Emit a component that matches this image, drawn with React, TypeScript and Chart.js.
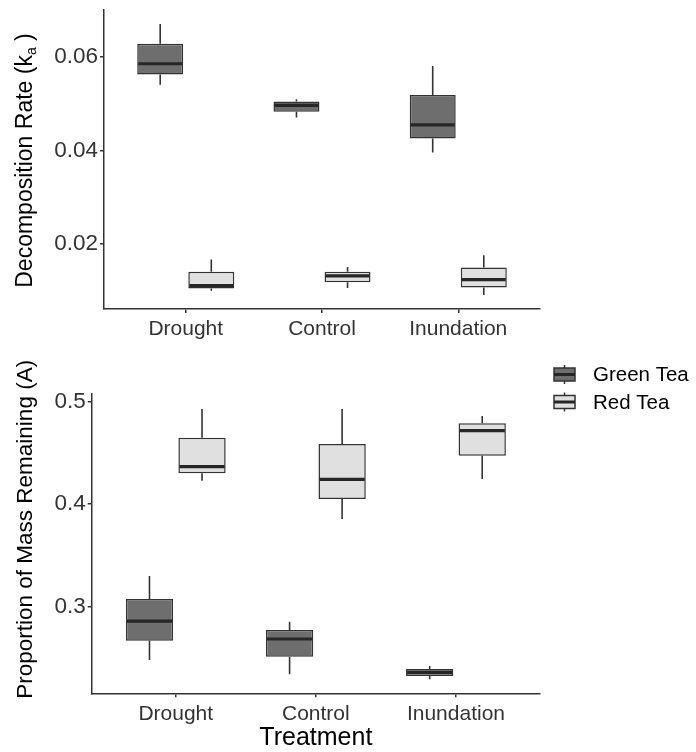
import React, { useEffect, useRef } from 'react';
import { Chart, registerables } from 'chart.js';

Chart.register(...registerables);

// ---------- data ----------
const categories = ['Drought', 'Control', 'Inundation'];
const seriesNames = ['Green Tea', 'Red Tea'];

// each entry: [lower whisker, Q1, median, Q3, upper whisker]
const greenTeaRate = [
  [0.0541, 0.0563, 0.0586, 0.0629, 0.0671],
  [0.0471, 0.0483, 0.0497, 0.0505, 0.051],
  [0.0396, 0.0426, 0.0455, 0.0519, 0.0581],
];
const redTeaRate = [
  [0.01, 0.0105, 0.0111, 0.0141, 0.0167],
  [0.0106, 0.0118, 0.0132, 0.0141, 0.0151],
  [0.0091, 0.0107, 0.0124, 0.015, 0.0176],
];
const greenTeaMass = [
  [0.248, 0.2668, 0.286, 0.3075, 0.33],
  [0.234, 0.2512, 0.2685, 0.2773, 0.2854],
  [0.2292, 0.2324, 0.236, 0.2392, 0.2422],
];
const redTeaMass = [
  [0.4229, 0.4301, 0.4366, 0.4649, 0.4929],
  [0.3856, 0.4051, 0.4243, 0.4587, 0.4929],
  [0.4246, 0.4473, 0.4717, 0.4789, 0.486],
];

const rateTicks = [0.02, 0.04, 0.06];
const rateTickLabels = ['0.02', '0.04', '0.06'];
const massTicks = [0.3, 0.4, 0.5];
const massTickLabels = ['0.3', '0.4', '0.5'];
const rateRange = [0.0061, 0.0701];
const massRange = [0.2155, 0.5082];

// ---------- style ----------
const FONT = "'Liberation Sans', Arial, Helvetica, sans-serif";
const fills = ['#6e6e6e', '#e0e0e0'];
const stroke = '#333333';
const medianColor = '#262626';

Chart.defaults.font.family = FONT;

const boxParts = {
  id: 'boxParts',
  afterDatasetsDraw(chart: any) {
    const ctx = chart.ctx;
    const ys = chart.scales.y;
    chart.data.datasets.forEach((ds: any, d: number) => {
      const meta = chart.getDatasetMeta(d);
      meta.data.forEach((bar: any, i: number) => {
        const s = ds.stats[i];
        const { x, width } = bar.getProps(['x', 'width'], true);
        ctx.save();
        ctx.strokeStyle = stroke;
        ctx.lineWidth = 1.6;
        ctx.beginPath();
        ctx.moveTo(x, ys.getPixelForValue(s[0]));
        ctx.lineTo(x, ys.getPixelForValue(s[1]));
        ctx.moveTo(x, ys.getPixelForValue(s[3]));
        ctx.lineTo(x, ys.getPixelForValue(s[4]));
        ctx.stroke();
        ctx.strokeStyle = medianColor;
        ctx.lineWidth = 3.2;
        ctx.beginPath();
        const my = ys.getPixelForValue(s[2]);
        ctx.moveTo(x - width / 2 + 1, my);
        ctx.lineTo(x + width / 2 - 1, my);
        ctx.stroke();
        ctx.restore();
      });
    });
  },
};

type Part = { t: string; size: number; dy: number };

function drawVerticalTitle(ctx: any, parts: Part[], cx: number, cy: number) {
  ctx.save();
  let total = 0;
  const widths = parts.map((p) => {
    ctx.font = `${p.size}px ${FONT}`;
    const w = ctx.measureText(p.t).width;
    total += w;
    return w;
  });
  ctx.translate(cx, cy);
  ctx.rotate(-Math.PI / 2);
  ctx.fillStyle = '#000';
  ctx.textBaseline = 'middle';
  ctx.textAlign = 'left';
  let pos = -total / 2;
  parts.forEach((p, k) => {
    ctx.font = `${p.size}px ${FONT}`;
    ctx.fillText(p.t, pos, p.dy);
    pos += widths[k];
  });
  ctx.restore();
}

const rateTitle = {
  id: 'rateTitle',
  afterDraw(chart: any) {
    const area = chart.chartArea;
    drawVerticalTitle(
      chart.ctx,
      [
        { t: 'Decomposition Rate (k', size: 23, dy: 0 },
        { t: 'a', size: 14, dy: 6 },
        { t: ' )', size: 23, dy: 0 },
      ],
      26,
      (area.top + area.bottom) / 2 + 1
    );
  },
};

const massTitle = {
  id: 'massTitle',
  afterDraw(chart: any) {
    const area = chart.chartArea;
    drawVerticalTitle(
      chart.ctx,
      [{ t: 'Proportion of Mass Remaining (A)', size: 22.5, dy: 0 }],
      26,
      (area.top + area.bottom) / 2 - 14
    );
  },
};

const legendKeys = {
  id: 'legendKeys',
  afterDraw(chart: any) {
    const ctx = chart.ctx;
    const rows = [29.5, 57];
    chart.data.datasets.forEach((ds: any, d: number) => {
      const cy = rows[d];
      const x0 = 554;
      const w = 21;
      const cx = x0 + w / 2;
      ctx.save();
      ctx.strokeStyle = stroke;
      ctx.lineWidth = 1.5;
      ctx.beginPath();
      ctx.moveTo(cx, cy - 9.5);
      ctx.lineTo(cx, cy + 9.5);
      ctx.stroke();
      ctx.fillStyle = ds.backgroundColor;
      ctx.fillRect(x0, cy - 6.5, w, 13);
      ctx.strokeRect(x0, cy - 6.5, w, 13);
      ctx.strokeStyle = medianColor;
      ctx.lineWidth = 3;
      ctx.beginPath();
      ctx.moveTo(x0, cy);
      ctx.lineTo(x0 + w, cy);
      ctx.stroke();
      ctx.fillStyle = '#000';
      ctx.font = `20.5px ${FONT}`;
      ctx.textBaseline = 'middle';
      ctx.textAlign = 'left';
      ctx.fillText(ds.label, 593, cy + 1);
      ctx.restore();
    });
  },
};

function buildConfig(opts: {
  green: number[][];
  red: number[][];
  yTicks: number[];
  yLabels: string[];
  yRange: number[];
  yWidth: number;
  xHeight: number;
  padTop: number;
  xTitle?: string;
  plugins: any[];
}) {
  const axisGrid = {
    display: true,
    drawOnChartArea: false,
    drawTicks: true,
    tickLength: 4,
    color: stroke,
    lineWidth: 1.5,
    offset: false,
  };
  const axisBorder = { display: true, color: stroke, width: 1.5 };
  return {
    type: 'bar',
    data: {
      datasets: [opts.green, opts.red].map((arr, d) => ({
        label: seriesNames[d],
        data: arr.map((s, i) => ({ x: i, y: [s[1], s[3]] })),
        stats: arr,
        backgroundColor: fills[d],
        borderColor: stroke,
        borderWidth: 1.5,
        borderSkipped: false,
        categoryPercentage: 0.75,
        barPercentage: 0.9,
      })),
    },
    options: {
      responsive: false,
      animation: false,
      events: [],
      layout: { padding: { top: opts.padTop, right: 156, left: 0, bottom: 0 } },
      plugins: { legend: { display: false }, tooltip: { enabled: false } },
      scales: {
        x: {
          type: 'linear',
          min: -0.6,
          max: 2.6,
          offset: false,
          grid: axisGrid,
          border: axisBorder,
          ticks: {
            color: '#333',
            font: { family: FONT, size: 21 },
            padding: 4,
            maxRotation: 0,
            autoSkip: false,
            callback: (v: number) => categories[v],
          },
          afterBuildTicks: (s: any) => {
            s.ticks = categories.map((_, i) => ({ value: i }));
          },
          afterFit: (s: any) => {
            s.height = opts.xHeight;
            s.paddingLeft = 0;
            s.paddingRight = 0;
          },
          title: opts.xTitle
            ? {
                display: true,
                text: opts.xTitle,
                color: '#000',
                font: { family: FONT, size: 25 },
                padding: { top: 0, bottom: -1 },
              }
            : { display: false },
        },
        y: {
          type: 'linear',
          min: opts.yRange[0],
          max: opts.yRange[1],
          grid: axisGrid,
          border: axisBorder,
          ticks: {
            color: '#333',
            font: { family: FONT, size: 22.5 },
            padding: 2,
            callback: (_v: number, i: number) => opts.yLabels[i],
          },
          afterBuildTicks: (s: any) => {
            s.ticks = opts.yTicks.map((v) => ({ value: v }));
          },
          afterFit: (s: any) => {
            s.width = opts.yWidth;
            s.paddingTop = 0;
            s.paddingBottom = 0;
          },
          title: { display: false },
        },
      },
    },
    plugins: opts.plugins,
  };
}

export default function App() {
  const topRef = useRef<HTMLCanvasElement>(null);
  const bottomRef = useRef<HTMLCanvasElement>(null);

  useEffect(() => {
    const top = new Chart(
      topRef.current as HTMLCanvasElement,
      buildConfig({
        green: greenTeaRate,
        red: redTeaRate,
        yTicks: rateTicks,
        yLabels: rateTickLabels,
        yRange: rateRange,
        yWidth: 104,
        xHeight: 36,
        padTop: 10,
        plugins: [boxParts, rateTitle],
      }) as any
    );
    const bottom = new Chart(
      bottomRef.current as HTMLCanvasElement,
      buildConfig({
        green: greenTeaMass,
        red: redTeaMass,
        yTicks: massTicks,
        yLabels: massTickLabels,
        yRange: massRange,
        yWidth: 91.7,
        xHeight: 58.7,
        padTop: 48.3,
        xTitle: 'Treatment',
        plugins: [boxParts, massTitle, legendKeys],
      }) as any
    );
    return () => {
      top.destroy();
      bottom.destroy();
    };
  }, []);

  return (
    <div style={{ position: 'absolute', left: 0, top: 0, width: 696, height: 752, background: '#fff' }}>
      <canvas
        ref={topRef}
        width={696}
        height={345}
        style={{ position: 'absolute', left: 0, top: 0, width: 696, height: 345 }}
      />
      <canvas
        ref={bottomRef}
        width={696}
        height={407}
        style={{ position: 'absolute', left: 0, top: 345, width: 696, height: 407 }}
      />
    </div>
  );
}
